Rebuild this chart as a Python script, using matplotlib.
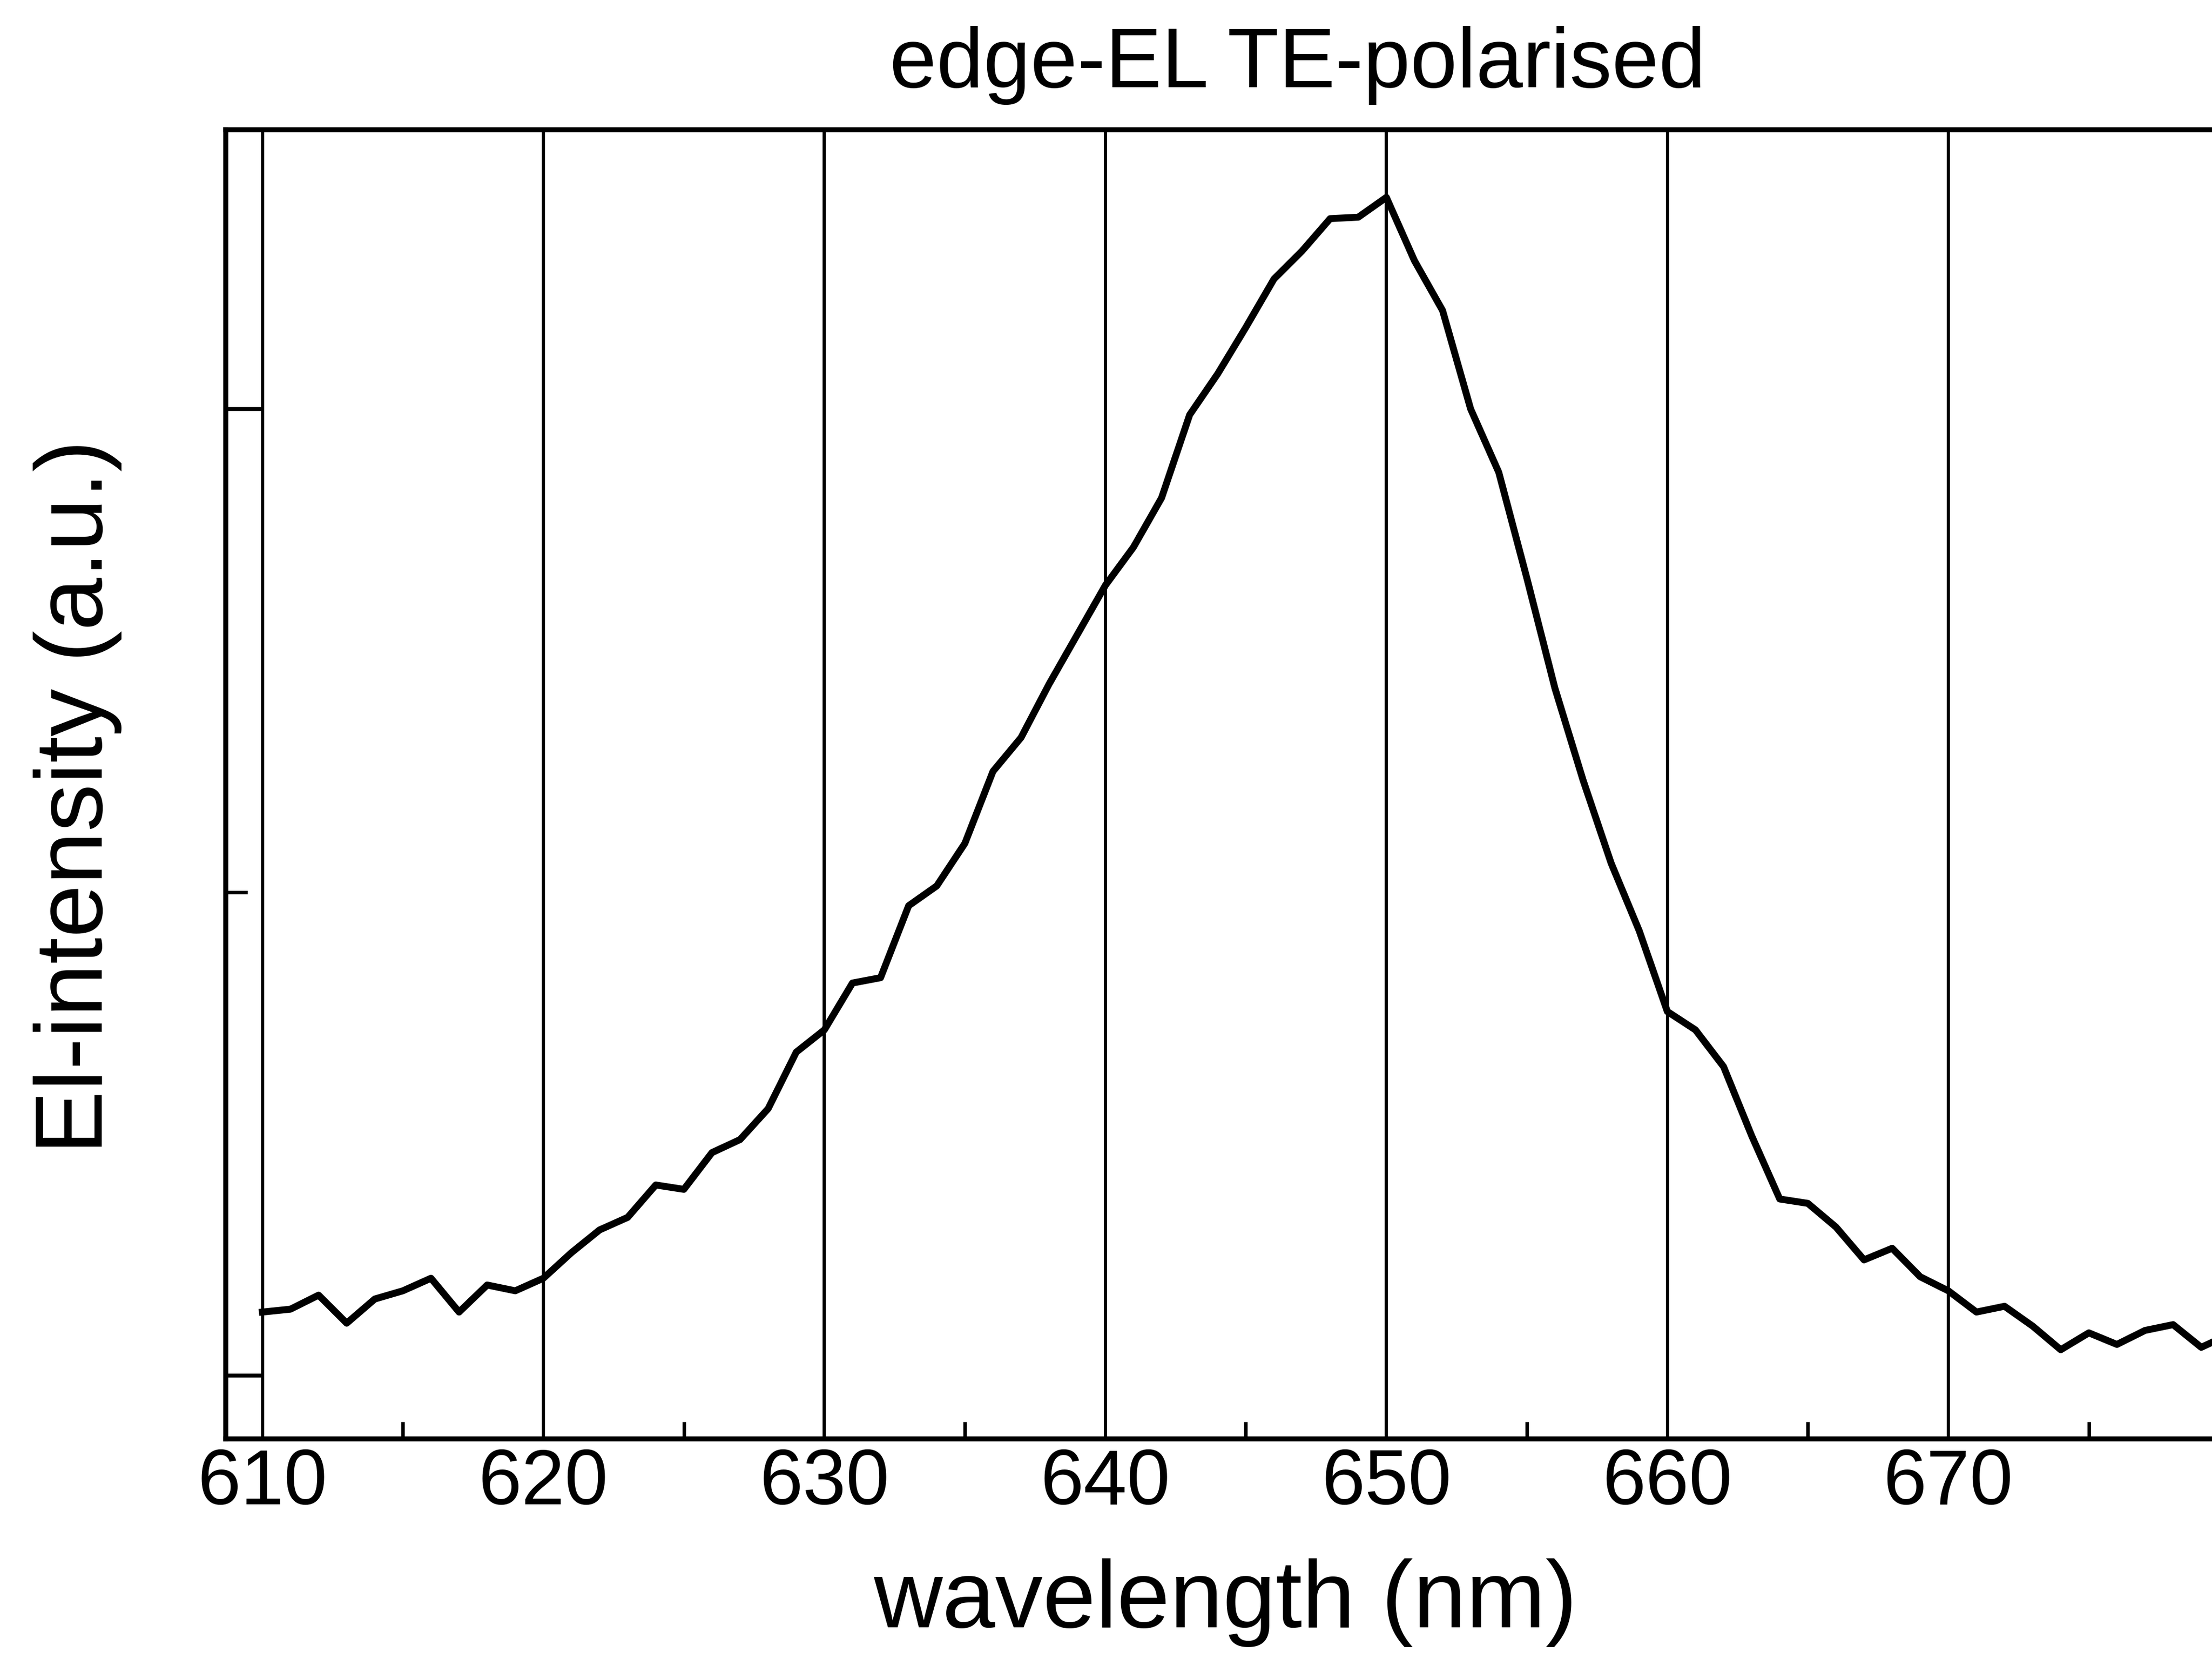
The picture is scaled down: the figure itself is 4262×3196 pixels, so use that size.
import numpy as np
import matplotlib.pyplot as plt

plt.rcParams['font.family'] = ['Liberation Sans', 'DejaVu Sans']

# EL spectrum, one point per nm
wavelength = np.arange(610, 681)
intensity = [0.131, 0.137, 0.166, 0.108, 0.158, 0.175, 0.201, 0.131, 0.187, 0.175,
             0.201, 0.254, 0.301, 0.327, 0.394, 0.385, 0.461, 0.488, 0.552, 0.669,
             0.715, 0.812, 0.823, 0.972, 1.013, 1.101, 1.250, 1.320, 1.431, 1.533,
             1.635, 1.714, 1.816, 1.988, 2.073, 2.169, 2.269, 2.327, 2.394, 2.397,
             2.438, 2.307, 2.204, 2.000, 1.869, 1.650, 1.422, 1.232, 1.060, 0.920,
             0.753, 0.715, 0.639, 0.496, 0.365, 0.356, 0.307, 0.239, 0.263, 0.204,
             0.175, 0.131, 0.143, 0.102, 0.053, 0.088, 0.064, 0.093, 0.105, 0.058,
             0.085]

grid_x = [610, 620, 630, 640, 650, 660, 670, 680]
tick_x = [610, 620, 630, 640, 650, 660, 670]
minor_x = [615, 625, 635, 645, 655, 665, 675]

fig = plt.figure(figsize=(4262 / 300, 3196 / 300), dpi=300)
ax = fig.add_axes([0.10204, 0.1327, 0.9312, 0.7891])

for g in grid_x:
    ax.axvline(g, color='black', lw=1.5, zorder=1)
ax.plot(wavelength, intensity, color='black', lw=3.2, zorder=3)

ax.set_xlim(608.695, 682)
ax.set_ylim(-0.1314, 2.578)

ax.set_xticks(tick_x)
ax.set_xticks(minor_x, minor=True)
ax.set_yticks([0, 2])
ax.set_yticks([1], minor=True)
ax.set_yticklabels([])
ax.tick_params(axis='x', which='major', direction='in', length=0, pad=4, labelsize=36)
ax.tick_params(axis='x', which='minor', direction='in', length=8, width=1.6)
ax.tick_params(axis='y', which='major', direction='in', length=17, width=1.8)
ax.tick_params(axis='y', which='minor', direction='in', length=10, width=1.6)
ax.tick_params(top=False, right=False, which='both')

for s in ax.spines.values():
    s.set_linewidth(2.3)

fig.text(0.5867, 0.9605, 'edge-EL TE-polarised', ha='center', va='center', fontsize=39)
fig.text(0.554, 0.034, 'wavelength (nm)', ha='center', va='center', fontsize=44)
fig.text(0.035, 0.5196, 'El-intensity (a.u.)', ha='center', va='center', rotation=90, fontsize=44)

fig.savefig('out.png', dpi=300)
